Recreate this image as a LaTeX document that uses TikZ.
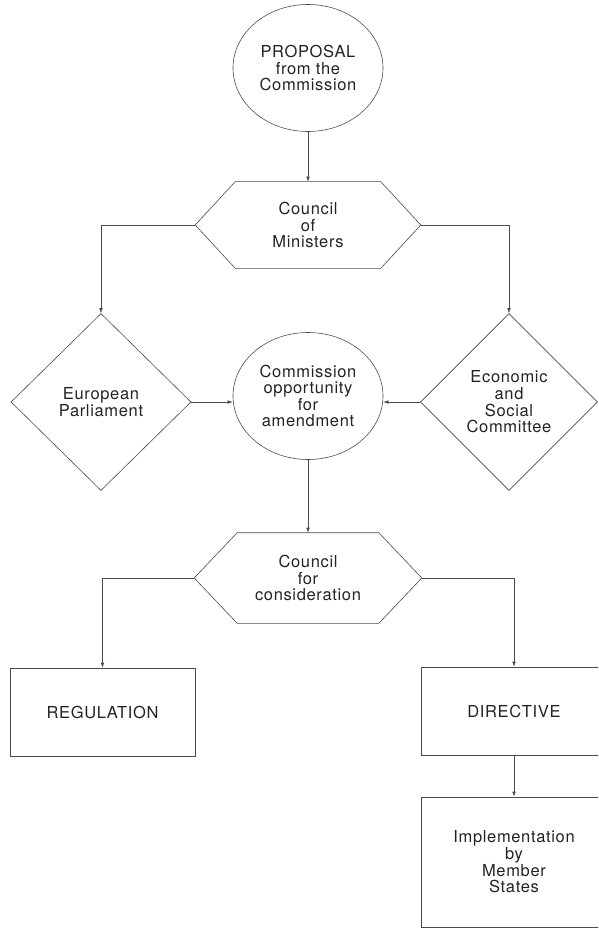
\documentclass[tikz,border=0pt]{standalone}
\usepackage{fontspec}
\setmainfont[LetterSpace=4]{TeX Gyre Heros}
\usetikzlibrary{positioning,arrows.meta,shapes.geometric}
\definecolor{lineclr}{RGB}{75,75,75}
\definecolor{txtclr}{RGB}{35,35,35}
\tikzset{
  box/.style={draw=lineclr,line width=0.6pt,inner sep=0pt,align=center,
              text=txtclr,font=\fontsize{16.5}{16.6}\selectfont},
  oval/.style={box,ellipse,minimum width=150pt,minimum height=127pt},
  hexa/.style={box,draw=none,rectangle,minimum width=225pt,minimum height=86pt,
               append after command={\pgfextra{
                 \draw[draw=lineclr,line width=0.6pt,line join=miter]
                   (\tikzlastnode.west) -- ([xshift=#1]\tikzlastnode.north west)
                   -- ([xshift=-#1]\tikzlastnode.north east) -- (\tikzlastnode.east)
                   -- ([xshift=-#1]\tikzlastnode.south east)
                   -- ([xshift=#1]\tikzlastnode.south west) -- cycle;}}},
  hexa/.default=40pt,
  rhomb/.style={box,diamond,minimum width=180pt,minimum height=177pt},
  rect/.style={box,rectangle,minimum width=185pt,minimum height=88pt},
  edge/.style={-{Latex[length=5pt,width=3.6pt]},draw=lineclr,line width=0.6pt},
}

\begin{document}
\begin{tikzpicture}[x=1pt, y=-1pt]
\useasboundingbox (0,0) rectangle (598,928);
\clip (0,0) rectangle (598,928);

% ── proposal and first reading
\node[oval] (prop) at (308, 68) {PROPOSAL\\from the\\Commission};
\node[hexa] (cm) at (308, 225) {Council\\of\\Ministers};

% ── opinions
\node[rhomb] (ep) at (101, 402) {European\\Parliament};
\node[rhomb,minimum width=177pt] (esc) at (509, 402) {Economic\\and\\Social\\Committee};
\node[oval] (com) at (308, 396) {Commission\\opportunity\\for\\amendment};

% ── second reading
\node[hexa=43pt,minimum width=227pt,minimum height=90pt] (cc) at (308, 578) {Council\\for\\consideration};

% ── instruments
\node[rect] (reg) at (102.5, 712) {REGULATION};
\node[rect] (dir) at (514, 711) {DIRECTIVE};
\node[rect,minimum height=130pt] (imp) at (514, 862) {Implementation\\by\\Member\\States};

% ── connectors
\draw[edge] (prop.south) -- (cm.north);
\draw[edge] (cm.west) -| (ep.north);
\draw[edge] (cm.east) -| (esc.north);
\draw[edge] (ep.east) -- (ep.east -| com.west);
\draw[edge] (esc.west) -- (esc.west -| com.east);
\draw[edge] (com.south) -- (cc.north);
\draw[edge] (cc.west) -| (reg.north);
\draw[edge] (cc.east) -| (dir.north);
\draw[edge] (dir.south) -- (imp.north);

\end{tikzpicture}
\end{document}
